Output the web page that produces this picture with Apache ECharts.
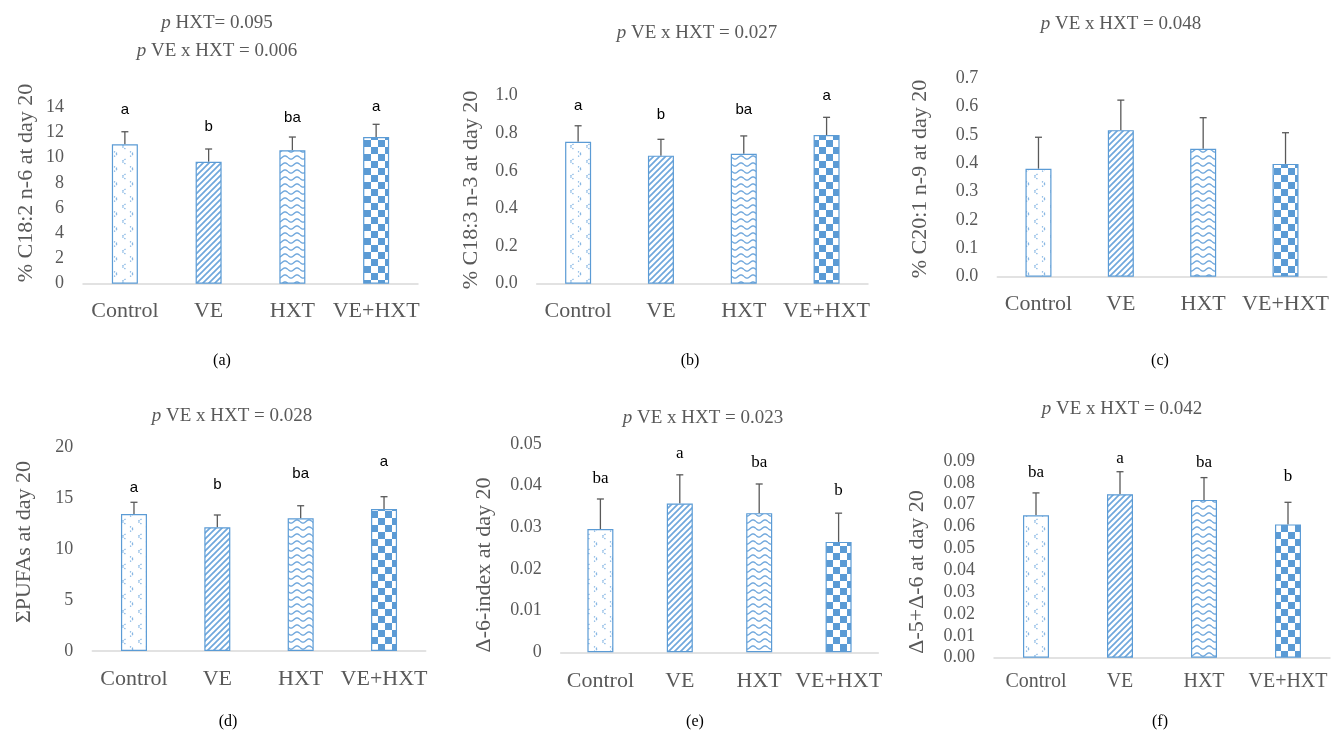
<!DOCTYPE html>
<html>
<head>
<meta charset="utf-8">
<script src="https://cdn.jsdelivr.net/npm/echarts@6/dist/echarts.min.js"></script>
<style>
  html, body { margin: 0; padding: 0; background: #fff; }
  #chart { width: 1338px; height: 736px; }
</style>
</head>
<body>
<div id="chart"></div>
<script>
// ---- data ----
const categories = ['Control', 'VE', 'HXT', 'VE+HXT'];

const c182Mean = [11.06, 9.68, 10.59, 11.64];
const c182Err = [1.00, 1.01, 1.05, 1.01];
const c182Letters = ['a', 'b', 'ba', 'a'];
const c182Ticks = ['0', '2', '4', '6', '8', '10', '12', '14'];

const c183Mean = [0.755, 0.681, 0.691, 0.791];
const c183Err = [0.085, 0.087, 0.095, 0.094];
const c183Letters = ['a', 'b', 'ba', 'a'];
const c183Ticks = ['0.0', '0.2', '0.4', '0.6', '0.8', '1.0'];

const c201Mean = [0.381, 0.517, 0.451, 0.398];
const c201Err = [0.111, 0.106, 0.110, 0.110];
const c201Letters = ['', '', '', ''];
const c201Ticks = ['0.0', '0.1', '0.2', '0.3', '0.4', '0.5', '0.6', '0.7'];

const pufaMean = [13.48, 12.17, 13.05, 13.97];
const pufaErr = [1.15, 1.21, 1.24, 1.21];
const pufaLetters = ['a', 'b', 'ba', 'a'];
const pufaTicks = ['0', '5', '10', '15', '20'];

const d6Mean = [0.0296, 0.0357, 0.0334, 0.0265];
const d6Err = [0.0072, 0.0069, 0.0070, 0.0069];
const d6Letters = ['ba', 'a', 'ba', 'b'];
const d6Ticks = ['0', '0.01', '0.02', '0.03', '0.04', '0.05'];

const d56Mean = [0.0652, 0.0748, 0.0722, 0.0610];
const d56Err = [0.0102, 0.0103, 0.0102, 0.0101];
const d56Letters = ['ba', 'a', 'ba', 'b'];
const d56Ticks = ['0.00', '0.01', '0.02', '0.03', '0.04', '0.05', '0.06', '0.07', '0.08', '0.09'];

// ---- fill patterns for the four groups ----
const BLUE = '#5b9bd5';
function tile(w, h, draw) {
  const c = document.createElement('canvas');
  c.width = w; c.height = h;
  const g = c.getContext('2d');
  g.fillStyle = '#fff';
  g.fillRect(0, 0, w, h);
  draw(g);
  return { image: c, repeat: 'repeat' };
}
const chevronFill = tile(16, 15, g => {
  g.strokeStyle = '#7fb2e2';
  g.lineWidth = 1.3;
  g.setLineDash([1.3, 1.1]);
  g.beginPath(); g.moveTo(2, 1.5); g.lineTo(5.5, 4); g.lineTo(2, 6.5); g.stroke();
  g.beginPath(); g.moveTo(13.5, 9); g.lineTo(10, 11.5); g.lineTo(13.5, 14); g.stroke();
});
const stripeFill = tile(6, 6, g => {
  g.strokeStyle = '#6fa7dc';
  g.lineWidth = 1.7;
  g.beginPath();
  g.moveTo(-1, 7); g.lineTo(7, -1);
  g.moveTo(-4, 4); g.lineTo(4, -4);
  g.moveTo(2, 10); g.lineTo(10, 2);
  g.stroke();
});
const waveFill = tile(12, 7, g => {
  g.strokeStyle = '#6fa7dc';
  g.lineWidth = 1.4;
  g.beginPath();
  for (let x = 0; x <= 12; x += 0.5) {
    const y = 3.5 + 1.6 * Math.sin(x / 12 * Math.PI * 2);
    if (x === 0) g.moveTo(x, y); else g.lineTo(x, y);
  }
  g.stroke();
});
const checkerFill = tile(14, 14, g => {
  g.fillStyle = BLUE;
  g.fillRect(0, 0, 7, 7);
  g.fillRect(7, 7, 7, 7);
});
const groupFills = [chevronFill, stripeFill, waveFill, checkerFill];

// ---- panel layout ----
const SERIF = '"Liberation Serif", "Times New Roman", serif';
const SANS = '"Liberation Sans", Arial, sans-serif';
const GREY = '#595959';

const panels = [
  { mean: c182Mean, err: c182Err, letters: c182Letters, ticks: c182Ticks, max: 14, step: 2,
    yName: '% C18:2 n-6 at day 20', titles: ['{i|p} HXT= 0.095', '{i|p} VE x HXT = 0.006'], tag: '(a)',
    grid: { left: 83, top: 107.3, width: 335, height: 176.4 }, yNamePos: [26, 183], titlePos: [217, 23], tagPos: [222, 361],
    letterFont: SANS, letterSize: 15, lift: [22, 22, 19, 17], xFont: 22, xMargin: 17 },
  { mean: c183Mean, err: c183Err, letters: c183Letters, ticks: c183Ticks, max: 1.0, step: 0.2,
    yName: '% C18:3 n-3 at day 20', titles: ['{i|p} VE x HXT = 0.027'], tag: '(b)',
    grid: { left: 536.7, top: 95.7, width: 331.3, height: 188 }, yNamePos: [471, 190], titlePos: [697, 33], tagPos: [690, 361],
    letterFont: SANS, letterSize: 15, lift: [20, 24, 26, 21], xFont: 22, xMargin: 17 },
  { mean: c201Mean, err: c201Err, letters: c201Letters, ticks: c201Ticks, max: 0.7, step: 0.1,
    yName: '% C20:1 n-9 at day 20', titles: ['{i|p} VE x HXT = 0.048'], tag: '(c)',
    grid: { left: 997.3, top: 78.3, width: 329.4, height: 198.4 }, yNamePos: [920, 179], titlePos: [1121, 24], tagPos: [1160, 361],
    letterFont: SANS, letterSize: 15, lift: [0, 0, 0, 0], xFont: 22, xMargin: 17 },
  { mean: pufaMean, err: pufaErr, letters: pufaLetters, ticks: pufaTicks, max: 20, step: 5,
    yName: '\u03A3PUFAs at day 20', titles: ['{i|p} VE x HXT = 0.028'], tag: '(d)',
    grid: { left: 92.3, top: 447.7, width: 333.4, height: 203.3 }, yNamePos: [24, 542], titlePos: [232, 416], tagPos: [228, 722],
    letterFont: SANS, letterSize: 15, lift: [14, 30, 32, 35], xFont: 22, xMargin: 17 },
  { mean: d6Mean, err: d6Err, letters: d6Letters, ticks: d6Ticks, max: 0.05, step: 0.01,
    yName: '\u0394-6-index at day 20', titles: ['{i|p} VE x HXT = 0.023'], tag: '(e)',
    grid: { left: 560.7, top: 444, width: 317.6, height: 208.3 }, yNamePos: [484, 565], titlePos: [703, 418], tagPos: [695, 722],
    letterFont: SERIF, letterSize: 17, lift: [20, 21, 21, 23], xFont: 22, xMargin: 18 },
  { mean: d56Mean, err: d56Err, letters: d56Letters, ticks: d56Ticks, max: 0.09, step: 0.01,
    yName: '\u0394-5+\u0394-6 at day 20', titles: ['{i|p} VE x HXT = 0.042'], tag: '(f)',
    grid: { left: 994, top: 461, width: 336, height: 196.7 }, yNamePos: [917, 572], titlePos: [1122, 409], tagPos: [1160, 722],
    letterFont: SERIF, letterSize: 17, lift: [20, 13, 15, 26], xFont: 20, xMargin: 14 }
];

const grids = [], xAxes = [], yAxes = [], series = [], graphics = [];

panels.forEach((p, k) => {
  grids.push(Object.assign({ containLabel: false }, p.grid));
  xAxes.push({
    type: 'category', gridIndex: k, data: categories,
    axisLine: { lineStyle: { color: '#d9d9d9', width: 1.5 } },
    axisTick: { show: false },
    axisLabel: { interval: 0, hideOverlap: false, color: GREY, fontFamily: SERIF, fontSize: p.xFont, margin: p.xMargin }
  });
  yAxes.push({
    type: 'value', gridIndex: k, min: 0, max: p.max, interval: p.step,
    axisLine: { show: false }, axisTick: { show: false }, splitLine: { show: false },
    axisLabel: { color: GREY, fontFamily: SERIF, fontSize: 18, margin: 19,
      formatter: (v, i) => p.ticks[i] }
  });
  series.push({
    type: 'bar', xAxisIndex: k, yAxisIndex: k, barWidth: 26,
    data: p.mean.map((v, i) => ({ value: v, itemStyle: { color: groupFills[i], borderColor: BLUE, borderWidth: 1.2 } })),
    silent: true, animation: false
  });
  series.push({
    type: 'custom', xAxisIndex: k, yAxisIndex: k, silent: true, animation: false,
    encode: { x: 0, y: 1 },
    data: p.mean.map((v, i) => [i, v, p.err[i]]),
    renderItem: (params, api) => {
      const i = params.dataIndex;
      const base = api.coord([api.value(0), api.value(1)]);
      const top = api.coord([api.value(0), api.value(1) + api.value(2)]);
      const children = [
        { type: 'line', shape: { x1: base[0], y1: base[1], x2: top[0], y2: top[1] },
          style: { stroke: GREY, lineWidth: 1.3 } },
        { type: 'line', shape: { x1: top[0] - 3.5, y1: top[1], x2: top[0] + 3.5, y2: top[1] },
          style: { stroke: GREY, lineWidth: 1.3 } }
      ];
      if (p.letters[i]) {
        children.push({ type: 'text', x: top[0], y: top[1] - p.lift[i],
          style: { text: p.letters[i], fill: '#000', fontFamily: p.letterFont, fontSize: p.letterSize,
                   align: 'center', verticalAlign: 'middle' } });
      }
      return { type: 'group', children };
    }
  });

  // axis title
  graphics.push({ type: 'text', x: p.yNamePos[0], y: p.yNamePos[1], rotation: Math.PI / 2,
    style: { text: p.yName, fill: GREY, fontFamily: SERIF, fontSize: 22, align: 'center', verticalAlign: 'middle' } });
  // significance headings
  p.titles.forEach((t, j) => {
    graphics.push({ type: 'text', x: p.titlePos[0], y: p.titlePos[1] + j * 28,
      style: { text: t, fill: GREY, fontFamily: SERIF, fontSize: 19, align: 'center', verticalAlign: 'middle',
        rich: { i: { fontStyle: 'italic', fontFamily: SERIF, fontSize: 19, fill: GREY } } } });
  });
  // panel tag
  graphics.push({ type: 'text', x: p.tagPos[0], y: p.tagPos[1],
    style: { text: p.tag, fill: '#000', fontFamily: SERIF, fontSize: 16, align: 'center', verticalAlign: 'middle' } });
});

const chart = echarts.init(document.getElementById('chart'), null, { renderer: 'canvas' });
chart.setOption({
  animation: false,
  backgroundColor: '#fff',
  grid: grids, xAxis: xAxes, yAxis: yAxes, series: series,
  graphic: graphics
});
</script>
</body>
</html>
